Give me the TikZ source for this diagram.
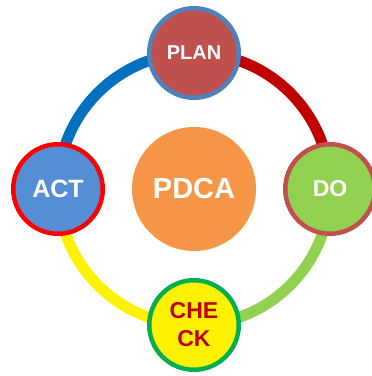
\documentclass[tikz,border=0pt]{standalone}
\usepackage{fontspec}
\setmainfont{Liberation Sans}
\usepackage{tikz}
\usetikzlibrary{backgrounds}
\definecolor{planred}{RGB}{192,80,77}
\definecolor{ringblue}{RGB}{0,112,192}
\definecolor{ringred}{RGB}{192,0,0}
\definecolor{dogreen}{RGB}{146,208,80}
\definecolor{actblue}{RGB}{85,142,213}
\definecolor{edgeblue}{RGB}{79,129,189}
\definecolor{checkgreen}{RGB}{0,176,80}
\definecolor{pdcaorange}{RGB}{247,150,70}
\tikzset{phase/.style={
  circle,
  line width=4.5pt,
  minimum size=89.5pt,
  inner sep=0pt,
  align=center,
  font=\bfseries\fontsize{23}{28}\selectfont,
  text=white
  },
  ring/.style={
  line width=11pt
  }
}

\begin{document}
\begin{tikzpicture}[x=1pt,y=1pt]
    \useasboundingbox (0,0) rectangle (372,376);

    \node[circle,fill=pdcaorange,minimum size=124pt,text=white,font=\bfseries\fontsize{29}{34}\selectfont] (pdca) at (194,187) {PDCA};

    \node[phase,draw=edgeblue,fill=planred,font=\bfseries\fontsize{20}{24}\selectfont] (plan) at (194,323) {PLAN};
    \node[phase,draw=planred,fill=dogreen] (do) at (330,187) {DO};
    \node[phase,draw=checkgreen,fill=yellow,text=ringred] (check) at (194,51) {CHE\\CK};
    \node[phase,draw=red,fill=actblue,font=\bfseries\fontsize{25}{28}\selectfont] (act) at (58,187) {ACT};

    \begin{scope}[on background layer]
    \foreach \c/\a/\n in {ringblue/180/act,ringred/90/plan,dogreen/0/do,yellow/-90/check}
        \draw[ring,\c] (\n.center) arc[start angle=\a,delta angle=-90,radius=136];
    \end{scope}

\end{tikzpicture}
\end{document}
